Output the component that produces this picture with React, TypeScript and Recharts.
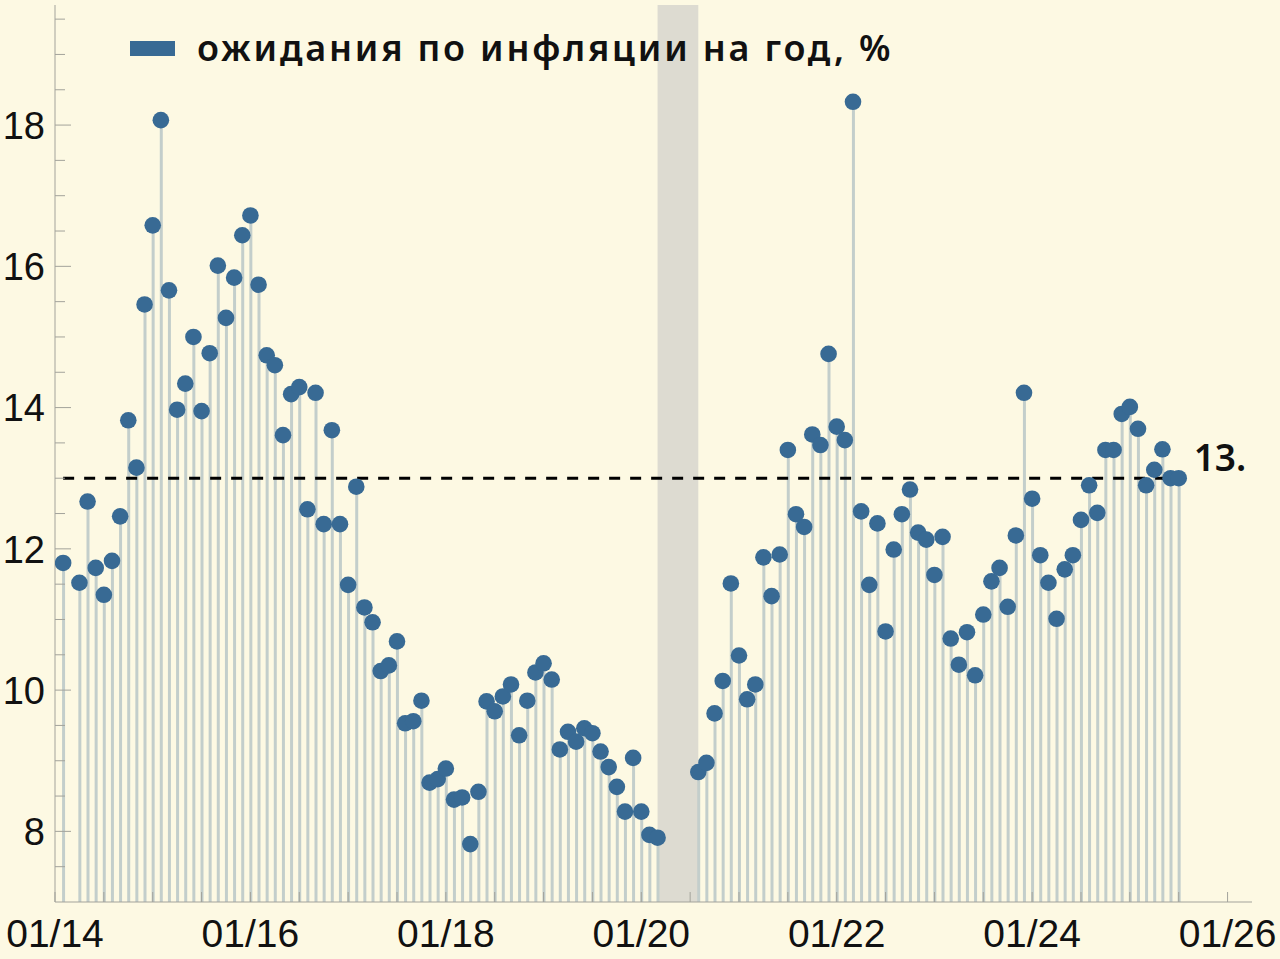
import React from "react";
import {
  ComposedChart,
  Bar,
  Scatter,
  XAxis,
  YAxis,
  ReferenceArea,
  ReferenceLine,
  Legend,
} from "recharts";

// months counted from January 2014 (0 = 01/14)
const monthIndex = [
  1, 3, 4, 5, 6, 7, 8, 9, 10, 11, 12, 13, 14, 15, 16, 17, 18, 19, 20, 21, 22, 23,
  24, 25, 26, 27, 28, 29, 30, 31, 32, 33, 34, 35, 36, 37, 38, 39, 40, 41, 42, 43,
  44, 45, 46, 47, 48, 49, 50, 51, 52, 53, 54, 55, 56, 57, 58, 59, 60, 61, 62, 63,
  64, 65, 66, 67, 68, 69, 70, 71, 72, 73, 74, 79, 80, 81, 82, 83, 84, 85, 86, 87,
  88, 89, 90, 91, 92, 93, 94, 95, 96, 97, 98, 99, 100, 101, 102, 103, 104, 105,
  106, 107, 108, 109, 110, 111, 112, 113, 114, 115, 116, 117, 118, 119, 120, 121,
  122, 123, 124, 125, 126, 127, 128, 129, 130, 131, 132, 133, 134, 135, 136, 137,
  138,
];

const expectations = [
  11.8, 11.52, 12.67, 11.73, 11.35, 11.83, 12.46, 13.82, 13.15, 15.46, 16.58, 18.07,
  15.66, 13.97, 14.34, 15.0, 13.95, 14.77, 16.01, 15.27, 15.84, 16.44, 16.72, 15.74,
  14.74, 14.6, 13.61, 14.19, 14.29, 12.56, 14.21, 12.35, 13.68, 12.35, 11.49, 12.88,
  11.17, 10.96, 10.27, 10.35, 10.69, 9.53, 9.56, 9.85, 8.69, 8.74, 8.89, 8.45, 8.48,
  7.82, 8.56, 9.84, 9.7, 9.91, 10.08, 9.36, 9.85, 10.25, 10.38, 10.15, 9.16, 9.41,
  9.27, 9.46, 9.39, 9.13, 8.91, 8.63, 8.28, 9.04, 8.28, 7.95, 7.91, 8.84, 8.97, 9.67,
  10.13, 11.51, 10.49, 9.87, 10.08, 11.88, 11.33, 11.92, 13.4, 12.49, 12.31, 13.62,
  13.47, 14.76, 13.73, 13.54, 18.33, 12.53, 11.49, 12.36, 10.83, 11.99, 12.49, 12.84,
  12.23, 12.13, 11.63, 12.17, 10.73, 10.36, 10.82, 10.21, 11.07, 11.54, 11.73, 11.18,
  12.19, 14.21, 12.71, 11.91, 11.52, 11.01, 11.71, 11.91, 12.41, 12.9, 12.51, 13.4,
  13.4, 13.91, 14.01, 13.7, 12.9, 13.12, 13.41, 13.0, 13.0,
];

const seriesName = "ожидания по инфляции на год, %";
const thresholdValue = 13;
const thresholdLabel = "13.";
const gapStart = 74;
const gapEnd = 79;

const xTicks = [0, 6, 12, 18, 24, 30, 36, 42, 48, 54, 60, 66, 72, 78, 84, 90, 96, 102, 108, 114, 120, 126, 132, 138, 144];
const xLabelTicks = [0, 24, 48, 72, 96, 120, 144];
const xTickLabels = ["01/14", "01/16", "01/18", "01/20", "01/22", "01/24", "01/26"];

const yTicks = [7.5, 8, 8.5, 9, 9.5, 10, 10.5, 11, 11.5, 12, 12.5, 13, 13.5, 14, 14.5, 15, 15.5, 16, 16.5, 17, 17.5, 18, 18.5, 19, 19.5];
const yLabelTicks = [8, 10, 12, 14, 16, 18];

const data = monthIndex.map((m, i) => ({ m, v: expectations[i] }));

const BG = "#fdf9e3";
const DOT = "#386a94";
const STEM = "#c3cecb";
const BAND = "#dddbd1";
const AXIS = "#a3a39b";
const TEXT = "#111111";

const YTick = (props: any) => {
  const { x, y, payload } = props;
  const val = payload.value;
  const idx = yLabelTicks.indexOf(val);
  const major = idx >= 0;
  return (
    <g>
      <line x1={x} x2={x + (major ? 16 : 10)} y1={y} y2={y} stroke={AXIS} strokeWidth={1} />
      {major && (
        <text
          x={x - 10}
          y={y}
          dy="0.36em"
          textAnchor="end"
          fontFamily="'Liberation Sans', Arial, sans-serif"
          fontSize={38}
          fill={TEXT}
        >
          {String(val)}
        </text>
      )}
    </g>
  );
};

const XTick = (props: any) => {
  const { x, y, payload } = props;
  const idx = xLabelTicks.indexOf(payload.value);
  return (
    <g>
      <line x1={x} x2={x} y1={y} y2={y - 10} stroke={AXIS} strokeWidth={1} />
      {idx >= 0 && (
        <text
          x={x}
          y={y + 31}
          dy="0.36em"
          textAnchor="middle"
          fontFamily="'Liberation Sans', Arial, sans-serif"
          fontSize={39}
          fill={TEXT}
        >
          {xTickLabels[idx]}
        </text>
      )}
    </g>
  );
};

const LegendContent = () => (
  <div style={{ display: "flex", alignItems: "center", whiteSpace: "nowrap" }}>
    <span
      style={{
        display: "inline-block",
        width: 45,
        height: 15,
        background: DOT,
        marginRight: 22,
      }}
    />
    <span
      style={{
        fontFamily: "'Noto Sans', sans-serif",
        fontWeight: 600,
        fontSize: 36,
        letterSpacing: "2.8px",
        color: TEXT,
        lineHeight: "40px",
      }}
    >
      {seriesName}
    </span>
  </div>
);

const ThresholdLabel = (props: any) => {
  const vb = props.viewBox || {};
  const x = (vb.x || 0) + (vb.width || 0) + 15;
  const y = (vb.y || 0) - 7;
  return (
    <text
      x={x}
      y={y}
      fontFamily="'Noto Sans', sans-serif"
      fontWeight={600}
      fontSize={37}
      fill={TEXT}
    >
      {thresholdLabel}
    </text>
  );
};

const Dot = (props: any) => {
  const { cx, cy } = props;
  return <circle cx={cx} cy={cy} r={8.3} fill={DOT} />;
};

export default function App() {
  return (
    <div
      style={{
        position: "absolute",
        left: 0,
        top: 0,
        width: 1280,
        height: 959,
        background: BG,
      }}
    >
      <ComposedChart
        width={1280}
        height={959}
        data={data}
        margin={{ top: 5, right: 28, bottom: 0, left: 0 }}
      >
        <XAxis
          dataKey="m"
          type="number"
          domain={[0, 147]}
          ticks={xTicks}
          interval={0}
          height={57}
          tickSize={0}
          tickMargin={0}
          tickLine={false}
          axisLine={{ stroke: AXIS, strokeWidth: 1 }}
          tick={<XTick />}
          allowDataOverflow
        />
        <YAxis
          type="number"
          domain={[7, 19.7]}
          ticks={yTicks}
          interval={0}
          width={55}
          tickSize={0}
          tickMargin={0}
          tickLine={false}
          axisLine={{ stroke: AXIS, strokeWidth: 1 }}
          tick={<YTick />}
          allowDataOverflow
        />
        <ReferenceArea
          x1={gapStart}
          x2={gapEnd}
          fill={BAND}
          fillOpacity={1}
          stroke="none"
        />
        <Legend
          layout="horizontal"
          verticalAlign="middle"
          align="center"
          wrapperStyle={{ left: 130, top: 28, width: "auto", height: "auto" }}
          content={<LegendContent />}
        />
        <Bar
          dataKey="v"
          name={seriesName}
          barSize={3}
          fill={STEM}
          isAnimationActive={false}
          legendType="rect"
        />
        <ReferenceLine
          segment={[
            { x: 1, y: thresholdValue },
            { x: 138, y: thresholdValue },
          ]}
          stroke="#000000"
          strokeWidth={3}
          strokeDasharray="11 10"
          label={<ThresholdLabel />}
        />
        <Scatter
          dataKey="v"
          fill={DOT}
          shape={<Dot />}
          isAnimationActive={false}
          legendType="none"
        />
      </ComposedChart>
    </div>
  );
}
